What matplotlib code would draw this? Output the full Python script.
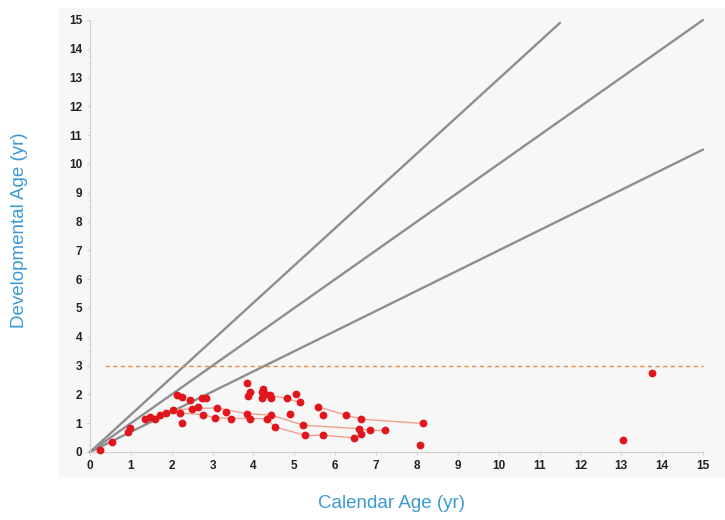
import matplotlib
matplotlib.use("Agg")
import matplotlib.pyplot as plt
import matplotlib.patches as patches
from matplotlib.ticker import MultipleLocator

# reference lines from the origin (end points)
ref_x_end = [11.5, 15.0, 15.0]
ref_y_end = [14.9, 15.0, 10.5]

# horizontal cut-off
cutoff_y = 3.0
cutoff_x = [0.37, 15.0]

# follow-up trajectories (connected points)
traj_a_x = [1.34, 1.47, 1.59, 1.71, 1.87, 2.04, 2.49, 3.10, 3.83, 4.44, 5.22, 6.59, 6.85, 7.21]
traj_a_y = [1.14, 1.22, 1.16, 1.28, 1.37, 1.45, 1.51, 1.53, 1.33, 1.28, 0.93, 0.81, 0.75, 0.75]
traj_b_x = [2.20, 2.77, 3.06, 3.91, 4.32, 4.52, 5.26, 5.70, 6.46]
traj_b_y = [1.35, 1.30, 1.18, 1.16, 1.16, 0.87, 0.58, 0.58, 0.49]
traj_c_x = [4.40, 4.81, 5.13]
traj_c_y = [1.97, 1.86, 1.72]
traj_d_x = [5.58, 6.26, 6.64, 8.15]
traj_d_y = [1.57, 1.28, 1.14, 0.99]

# single observations
pts_x = [0.25, 0.53, 0.94, 0.98, 2.12, 2.24, 2.24, 2.44, 2.65, 2.73, 2.85, 3.34, 3.46,
         3.83, 3.91, 3.87, 4.24, 4.20, 4.28, 4.20, 4.44, 5.05, 4.89, 5.70, 6.64, 8.07,
         13.04, 13.76]
pts_y = [0.08, 0.35, 0.70, 0.85, 1.97, 1.92, 0.99, 1.80, 1.57, 1.86, 1.86, 1.39, 1.16,
         2.38, 2.07, 1.95, 2.18, 2.07, 2.03, 1.88, 1.88, 2.00, 1.33, 1.30, 0.64, 0.25,
         0.41, 2.73]

x_ticks = list(range(0, 16))
y_ticks = list(range(0, 16))

W, H = 725, 520
fig = plt.figure(figsize=(W / 100, H / 100), dpi=100)

# light grey panel behind the plot
fig.patches.append(patches.Rectangle((58 / W, 1 - 477 / H), (W - 58) / W, (477 - 8) / H,
                                     transform=fig.transFigure, facecolor="#f7f7f7",
                                     edgecolor="none", zorder=-5))

ax = fig.add_axes([90 / W, 68 / H, 613 / W, 432 / H])
ax.set_zorder(2)
ax.set_facecolor("none")
ax.set_xlim(0, 15)
ax.set_ylim(0, 15)

for xe, ye in zip(ref_x_end, ref_y_end):
    ax.plot([0, xe], [0, ye], color="#8e8e8e", lw=1.7, solid_capstyle="round",
            clip_on=False, zorder=2)

ax.plot(cutoff_x, [cutoff_y, cutoff_y], color="#e8883a", lw=1.0, ls=(0, (3, 2.5)),
        clip_on=False, zorder=2)

red = "#e0161c"
for tx, ty in [(traj_a_x, traj_a_y), (traj_b_x, traj_b_y),
               (traj_c_x, traj_c_y), (traj_d_x, traj_d_y)]:
    ax.plot(tx, ty, color="#f2a08e", lw=1.0, zorder=3)
    ax.plot(tx, ty, ls="none", marker="o", ms=4.6, color=red, mec=red, zorder=4)

ax.plot(pts_x, pts_y, ls="none", marker="o", ms=4.6, color=red, mec=red,
        zorder=4, clip_on=False)

for side in ["top", "right"]:
    ax.spines[side].set_visible(False)
for side in ["left", "bottom"]:
    ax.spines[side].set_color("#d0d0d0")
    ax.spines[side].set_linewidth(0.8)

ax.set_xticks(x_ticks)
ax.set_yticks(y_ticks)
ax.xaxis.set_minor_locator(MultipleLocator(0.25))
ax.yaxis.set_minor_locator(MultipleLocator(0.25))
ax.tick_params(which="major", length=2.5, width=0.6, color="#c8c8c8", pad=3,
               labelsize=8.5, labelcolor="#222222")
ax.tick_params(which="minor", length=1.2, width=0.4, color="#d8d8d8")
for lab in ax.get_xticklabels() + ax.get_yticklabels():
    lab.set_fontweight("bold")
    lab.set_family("Liberation Sans")

blue = "#3a9ad6"
fig.text(392 / W, 1 - 503 / H, "Calendar Age (yr)", ha="center", va="center",
         fontsize=13.5, color=blue, family="Liberation Sans")
fig.text(20 / W, 1 - 230 / H, "Developmental Age (yr)", ha="center", va="center",
         rotation=90, fontsize=13.5, color=blue, family="Liberation Sans")

fig.savefig("out.png", dpi=100, facecolor="white")
